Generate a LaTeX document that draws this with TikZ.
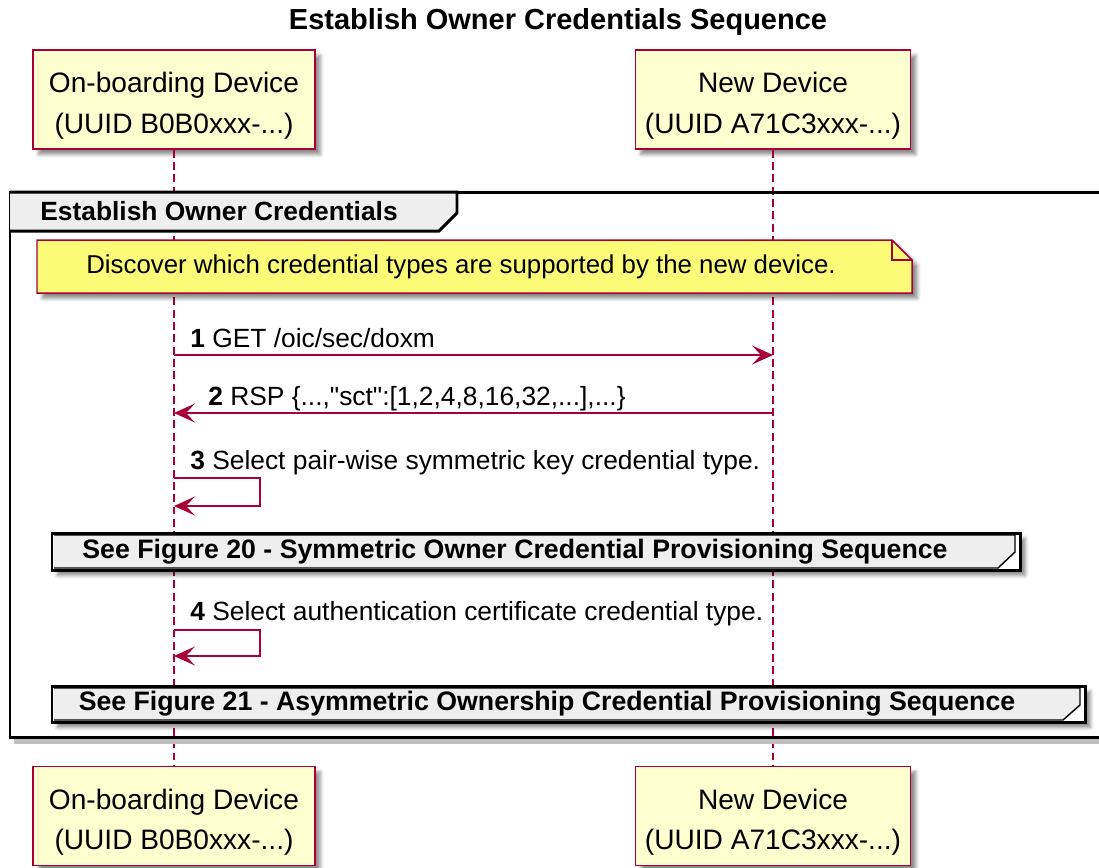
\documentclass[tikz,border=0pt]{standalone}
\usepackage{fontspec}
\setmainfont{Liberation Sans}
\usetikzlibrary{arrows.meta,shadows.blur}
\definecolor{umlred}{HTML}{A80036}
\definecolor{umlbox}{HTML}{FEFECE}
\definecolor{umlnote}{HTML}{FBFB77}
\definecolor{umlgrey}{HTML}{EEEEEE}
\newcommand{\toprow}{\rule{0pt}{18.5pt}}
\tikzset{
	shade/.style={blur shadow={shadow xshift=3pt,shadow yshift=-3pt,shadow blur radius=2pt,shadow opacity=45}},
	actor/.style={draw=umlred,fill=umlbox,line width=1pt,shade,minimum height=1.98cm,inner sep=0pt,align=center,font=\fontsize{16}{23}\selectfont},
	life/.style={umlred,line width=0.85pt,dash pattern=on 4.5pt off 2.5pt},
	msg/.style={umlred,line width=0.85pt,->},
	lbl/.style={anchor=base west,inner sep=0pt,font=\fontsize{15}{18}\selectfont},
	frame/.style={black,line width=1.7pt},
	hdr/.style={inner sep=0pt,font=\fontsize{15}{18}\selectfont\bfseries}
}
\begin{document}
\begin{tikzpicture}[x=0.02cm,y=-0.02cm,line join=miter,>={Stealth[length=0.42cm,width=0.38cm,inset=0.18cm]}]
	\useasboundingbox (0,0) rectangle (1099,867);
	\clip (0,0) rectangle (1099,867);
	\node[font=\fontsize{16.5}{20}\selectfont\bfseries] (title) at (558,22) {Establish Owner Credentials Sequence};
	% participants, top and bottom
	\node[actor,minimum width=5.64cm] (ob) at (174,99.5) {\toprow On-boarding Device\\(UUID B0B0xxx-...)};
	\node[actor,minimum width=5.5cm] (nd) at (773,99.5) {\toprow New Device\\(UUID A71C3xxx-...)};
	\node[actor,minimum width=5.64cm] (ob2) at (174,816) {\toprow On-boarding Device\\(UUID B0B0xxx-...)};
	\node[actor,minimum width=5.5cm] (nd2) at (773,816) {\toprow New Device\\(UUID A71C3xxx-...)};
	\draw[life] (ob) -- (ob2);
	\draw[life] (nd) -- (nd2);
	% group frame
	\draw[black!25,line width=3pt] (14,741) -- (1110,741);
	\draw[frame] (10,192) rectangle (1120,737);
	\filldraw[frame,fill=umlgrey] (10,192) -- (457,192) -- (457,213) -- (439,231) -- (10,231);
	\node[hdr,anchor=base west] (grp) at (40,220) {Establish Owner Credentials};
	% note
	\filldraw[draw=umlred,fill=umlnote,line width=0.85pt,shade] (37,240) -- (892,240) -- (912,260) -- (912,293) -- (37,293) -- cycle;
	\draw[umlred,line width=0.85pt] (892,240) -- (892,260) -- (912,260);
	\node[lbl,anchor=center,font=\fontsize{14.7}{18}\selectfont] (note) at (461,267) {Discover which credential types are supported by the new device.};
	% messages
	\coordinate (m1a) at (ob |- 0,355);
	\coordinate (m1b) at (nd |- 0,355);
	\coordinate (m2a) at (ob |- 0,413);
	\coordinate (m2b) at (nd |- 0,413);
	\draw[msg] (m1a) -- (m1b);
	\node[lbl] (l1) at (190,347) {\textbf{1} GET /oic/sec/doxm};
	\draw[msg] (m2b) -- (m2a);
	\node[lbl] (l2) at (208,405) {\textbf{2} RSP \{...,\textquotedbl sct\textquotedbl:[1,2,4,8,16,32,...],...\}};
	\coordinate (s3a) at (ob |- 0,478);
	\coordinate (s3b) at (ob |- 0,506);
	\draw[msg] (s3a) -- ++(86,0) |- (s3b);
	\node[lbl] (l3) at (190,469) {\textbf{3} Select pair-wise symmetric key credential type.};
	% references
	\filldraw[frame,fill=white,shade] (52,533) rectangle (1020,570);
	\filldraw[fill=umlgrey,draw=black,line width=0.8pt] (54,535) -- (1015,535) -- (1015,552) -- (998,568) -- (54,568);
	\node[hdr,font=\fontsize{15.2}{18}\selectfont\bfseries] (ref1) at (515,552) {See Figure 20 - Symmetric Owner Credential Provisioning Sequence};
	\coordinate (s4a) at (ob |- 0,630);
	\coordinate (s4b) at (ob |- 0,656);
	\draw[msg] (s4a) -- ++(86,0) |- (s4b);
	\node[lbl] (l4) at (190,620) {\textbf{4} Select authentication certificate credential type.};
	\filldraw[frame,fill=white,shade] (52,686) rectangle (1085,722);
	\filldraw[fill=umlgrey,draw=black,line width=0.8pt] (54,688) -- (1080,688) -- (1080,705) -- (1063,720) -- (54,720);
	\node[hdr,font=\fontsize{15.2}{18}\selectfont\bfseries] (ref2) at (547,704) {See Figure 21 - Asymmetric Ownership Credential Provisioning Sequence};
\end{tikzpicture}
\end{document}
